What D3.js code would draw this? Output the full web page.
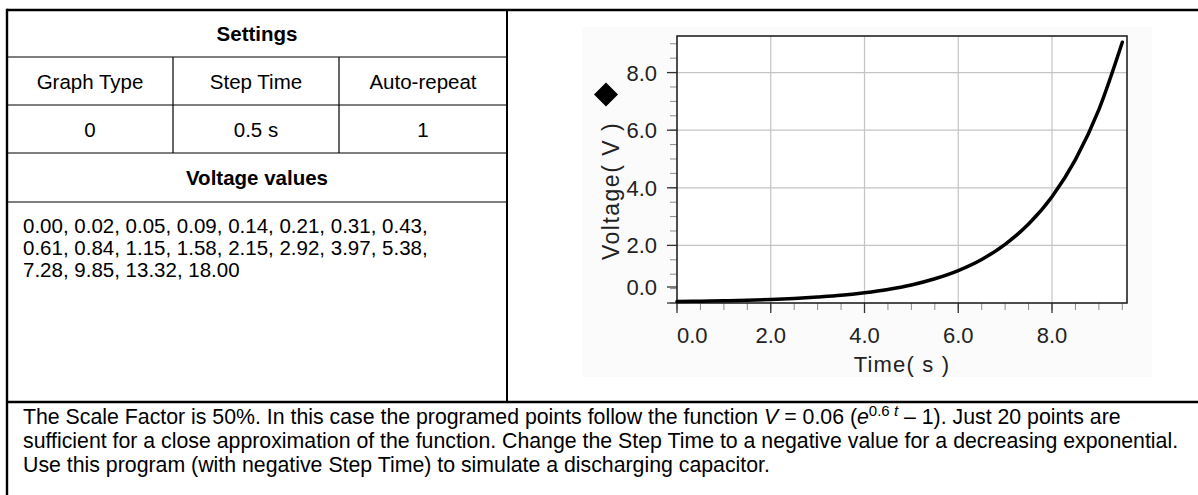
<!DOCTYPE html>
<html>
<head>
<meta charset="utf-8">
<script src="https://cdn.jsdelivr.net/npm/d3@7"></script>
<style>
  html, body { margin: 0; padding: 0; background: #fff; }
  svg { display: block; }
  text { font-family: "Liberation Sans", Arial, Helvetica, sans-serif; }
</style>
</head>
<body>
<svg id="chart" width="1198" height="495"></svg>
<script>
// ---------------- data ----------------
const settingsTitle = "Settings";
const settingsHeaders = ["Graph Type", "Step Time", "Auto-repeat"];
const settingsValues = ["0", "0.5 s", "1"];
const valuesTitle = "Voltage values";
const voltageValues = [0.00, 0.02, 0.05, 0.09, 0.14, 0.21, 0.31, 0.43,
  0.61, 0.84, 1.15, 1.58, 2.15, 2.92, 3.97, 5.38,
  7.28, 9.85, 13.32, 18.00];
const stepTime = 0.5;      // s
const scaleFactor = 0.5;   // 50 %
const xTickValues = [0, 2, 4, 6, 8];
const yTickValues = [0, 2, 4, 6, 8];
const xDomain = [0, 9.6];
const yDomain = [0, 9.27];
const xTitle = "Time( s )";
const yTitle = "Voltage( V )";

// ---------------- layout ----------------
const svg = d3.select("#chart");
const T = { left: 7, top: 10, mid: 507, right: 1199, rows: [57, 105, 153, 202], bottom: 402 };
const cols = [7, 173, 339, 507];

// table lines
const g = svg.append("g");
function line(x1, y1, x2, y2, w) {
  g.append("line").attr("x1", x1).attr("y1", y1).attr("x2", x2).attr("y2", y2)
    .attr("stroke", "#000").attr("stroke-width", w);
}
line(T.left, T.top, T.right, T.top, 2.4);
line(T.left, T.top - 1.2, T.left, 495, 2.4);
line(T.mid, T.top, T.mid, T.bottom, 2);
T.rows.forEach(y => line(T.left, y, T.mid, y, 1.2));
line(cols[1], T.rows[0], cols[1], T.rows[1], 1.2);
line(cols[2], T.rows[0], cols[2], T.rows[1], 1.2);
line(cols[1], T.rows[1], cols[1], T.rows[2], 1.2);
line(cols[2], T.rows[1], cols[2], T.rows[2], 1.2);
line(T.left, T.bottom, T.right, T.bottom, 2.4);

const fs = 20.5;
function cellText(x, yMid, s, bold) {
  g.append("text").attr("x", x).attr("y", yMid + 7.5)
    .attr("text-anchor", "middle").attr("font-size", fs)
    .attr("font-weight", bold ? "bold" : "normal").attr("fill", "#000").text(s);
}
cellText((T.left + T.mid) / 2, (T.top + T.rows[0]) / 2, settingsTitle, true);
settingsHeaders.forEach((s, i) => cellText((cols[i] + cols[i + 1]) / 2, (T.rows[0] + T.rows[1]) / 2, s, false));
settingsValues.forEach((s, i) => cellText((cols[i] + cols[i + 1]) / 2, (T.rows[1] + T.rows[2]) / 2, s, false));
cellText((T.left + T.mid) / 2, (T.rows[2] + T.rows[3]) / 2, valuesTitle, true);

// voltage values text (8 per line)
const formatted = voltageValues.map(v => v.toFixed(2));
const valueLines = [];
for (let i = 0; i < formatted.length; i += 8) {
  const chunk = formatted.slice(i, i + 8).join(", ");
  valueLines.push(i + 8 < formatted.length ? chunk + "," : chunk);
}
valueLines.forEach((s, i) => {
  g.append("text").attr("x", 23).attr("y", 233 + i * 22).attr("font-size", fs)
    .attr("fill", "#000").text(s);
});

// description text
const dfs = 21.3;
const desc = g.append("g").attr("font-size", dfs).attr("fill", "#000");
const d1 = desc.append("text").attr("x", 23).attr("y", 424);
d1.append("tspan").text("The Scale Factor is 50%. In this case the programed points follow the function ");
d1.append("tspan").attr("font-style", "italic").text("V");
d1.append("tspan").text(" = 0.06 (");
d1.append("tspan").attr("font-style", "italic").text("e");
d1.append("tspan").attr("font-size", 15).attr("dy", -8).text("0.6 ");
d1.append("tspan").attr("font-size", 15).attr("font-style", "italic").text("t");
d1.append("tspan").attr("dy", 8).text(" \u2013 1). Just 20 points are");
desc.append("text").attr("x", 23).attr("y", 448)
  .text("sufficient for a close approximation of the function. Change the Step Time to a negative value for a decreasing exponential.");
desc.append("text").attr("x", 23).attr("y", 472)
  .text("Use this program (with negative Step Time) to simulate a discharging capacitor.");

// ---------------- chart ----------------
const P = { left: 677, right: 1127, top: 36, bottom: 303 };
svg.append("rect").attr("x", 582).attr("y", 27).attr("width", 570).attr("height", 350).attr("fill", "#fbfbfb");
svg.append("rect").attr("x", P.left).attr("y", P.top).attr("width", P.right - P.left)
  .attr("height", P.bottom - P.top).attr("fill", "#fff");

const x = d3.scaleLinear().domain(xDomain).range([P.left, P.right]);
const y = d3.scaleLinear().domain(yDomain).range([P.bottom, P.top]);
const cg = svg.append("g");

// gridlines
cg.selectAll("line.gx").data(xTickValues.filter(v => v > 0)).join("line")
  .attr("x1", d => x(d)).attr("x2", d => x(d)).attr("y1", P.top).attr("y2", P.bottom)
  .attr("stroke", "#c4c4c4").attr("stroke-width", 1.2);
cg.selectAll("line.gy").data(yTickValues.filter(v => v > 0)).join("line")
  .attr("x1", P.left).attr("x2", P.right).attr("y1", d => y(d)).attr("y2", d => y(d))
  .attr("stroke", "#c4c4c4").attr("stroke-width", 1.2);

// minor ticks
const xMinor = d3.range(0, xDomain[1], 0.5);
const yMinor = d3.range(0, yDomain[1], 0.5);
cg.selectAll("line.mx").data(xMinor).join("line")
  .attr("x1", d => x(d)).attr("x2", d => x(d)).attr("y1", P.bottom).attr("y2", P.bottom + 7)
  .attr("stroke", "#8a8a8a").attr("stroke-width", 1);
cg.selectAll("line.my").data(yMinor).join("line")
  .attr("x1", P.left - 7).attr("x2", P.left).attr("y1", d => y(d)).attr("y2", d => y(d))
  .attr("stroke", "#8a8a8a").attr("stroke-width", 1);

// axis labels (clamped inside the plot extent like the original applet)
const tickFont = 22;
const fmt = d3.format(".1f");
cg.selectAll("line.Mx").data(xTickValues).join("line")
  .attr("x1", d => x(d)).attr("x2", d => x(d)).attr("y1", P.bottom).attr("y2", P.bottom + 10)
  .attr("stroke", "#333").attr("stroke-width", 1.3);
const xl = cg.selectAll("text.xl").data(xTickValues).join("text")
  .attr("y", 343).attr("font-size", tickFont).attr("fill", "#222").attr("text-anchor", "middle")
  .text(d => fmt(d));
xl.attr("x", function (d) { const w = this.getComputedTextLength(); return Math.max(x(d), P.left + w / 2); });

const yPos = d => Math.min(y(d), P.bottom - 16);
cg.selectAll("line.My").data(yTickValues).join("line")
  .attr("x1", P.left - 10).attr("x2", P.left).attr("y1", d => yPos(d)).attr("y2", d => yPos(d))
  .attr("stroke", "#333").attr("stroke-width", 1.3);
cg.append("line").attr("x1", P.left - 10).attr("x2", P.left).attr("y1", P.bottom).attr("y2", P.bottom)
  .attr("stroke", "#333").attr("stroke-width", 1.3);
cg.selectAll("text.yl").data(yTickValues).join("text")
  .attr("x", 657).attr("y", d => yPos(d) + 8).attr("font-size", tickFont).attr("fill", "#222")
  .attr("text-anchor", "end").text(d => fmt(d));

// titles
cg.append("text").attr("x", (P.left + P.right) / 2).attr("y", 372).attr("text-anchor", "middle")
  .attr("font-size", tickFont).attr("letter-spacing", 1.2).attr("fill", "#222").text(xTitle);
cg.append("text").attr("transform", "translate(619,191) rotate(-90)").attr("text-anchor", "middle")
  .attr("font-size", 23).attr("letter-spacing", 1.5).attr("fill", "#222").text(yTitle);

// legend marker
cg.append("path").attr("d", d3.symbol(d3.symbolSquare, 289)())
  .attr("transform", "translate(606,94.5) rotate(45)").attr("fill", "#000");

// frame
cg.append("rect").attr("x", P.left).attr("y", P.top).attr("width", P.right - P.left)
  .attr("height", P.bottom - P.top).attr("fill", "none").attr("stroke", "#222").attr("stroke-width", 1.6);

// curve
const pts = voltageValues.map((v, i) => [i * stepTime, v * scaleFactor]);
cg.append("path").datum(pts)
  .attr("d", d3.line().x(d => x(d[0])).y(d => y(d[1]) - 1.5).curve(d3.curveMonotoneX))
  .attr("fill", "none").attr("stroke", "#000").attr("stroke-width", 3.5)
  .attr("stroke-linejoin", "round").attr("stroke-linecap", "round");
</script>
</body>
</html>
